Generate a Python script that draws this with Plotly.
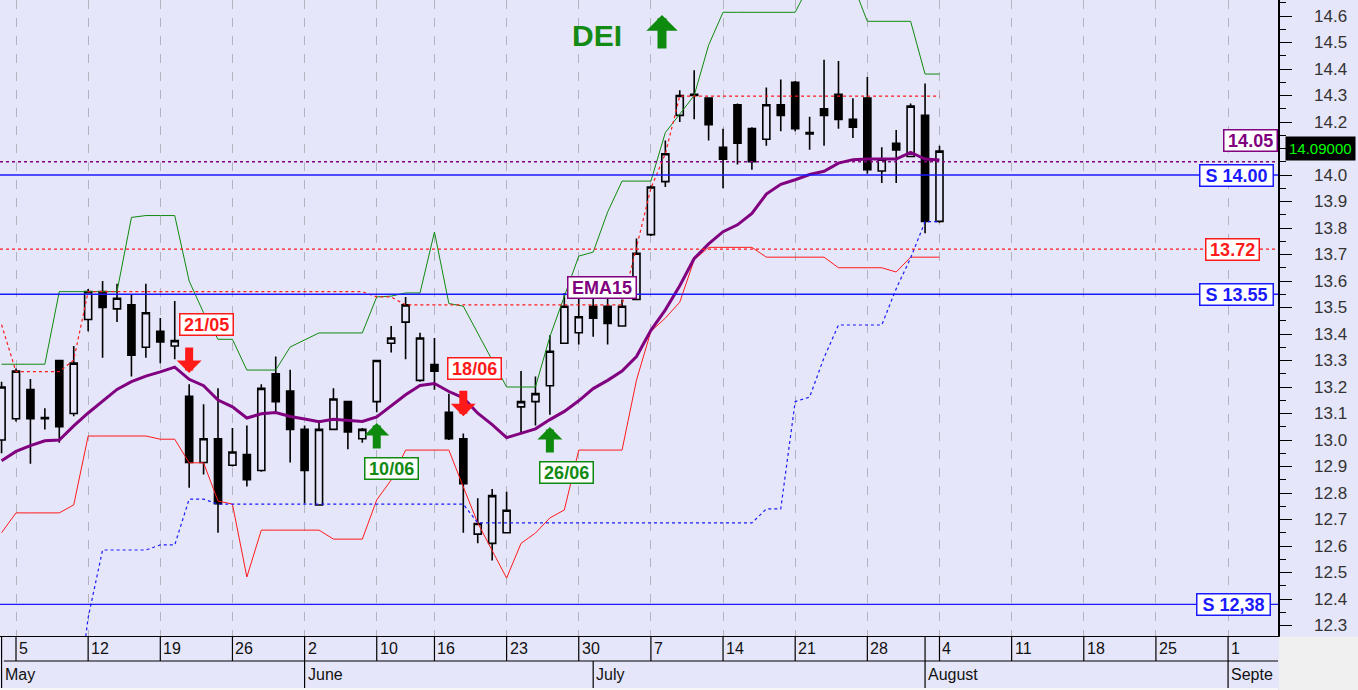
import pandas as pd
import plotly.graph_objects as go

# ---------------- data ----------------
holidays = ["2014-06-09"]
days = [d for d in pd.bdate_range("2014-05-02", "2014-09-05")
        if d.strftime("%Y-%m-%d") not in holidays]

opens = [
    13.00, 13.08, 13.19, 13.085, 13.30, 13.10, 13.455, 13.56, 13.495, 13.51, 13.35,
    13.41, 13.355, 13.165, 12.915, 13.005, 12.905, 12.945, 12.885, 13.25, 13.185, 13.04,
    12.755, 13.04, 13.145, 13.005, 13.145, 13.365, 13.445, 13.225, 13.285, 13.105, 13.005,
    12.645, 12.61, 12.65, 13.125, 13.145, 13.205, 13.365, 13.405, 13.505, 13.505, 13.43,
    13.53, 13.775, 13.975, 14.225, 14.30, 14.29, 14.105, 14.265, 14.175, 14.135, 14.265,
    14.35, 14.16, 14.25, 14.305, 14.21, 14.29, 14.015, 14.12, 14.07, 14.225, 13.825,
]
highs = [
    13.22, 13.27, 13.23, 13.12, 13.30, 13.355, 13.57, 13.60, 13.59, 13.55, 13.59,
    13.46, 13.525, 13.21, 13.135, 13.195, 13.045, 13.055, 13.21, 13.315, 13.265, 13.055,
    13.075, 13.195, 13.145, 13.045, 13.30, 13.43, 13.54, 13.405, 13.385, 13.175, 13.025,
    12.78, 12.815, 12.805, 13.26, 13.24, 13.395, 13.555, 13.535, 13.535, 13.535, 13.53,
    13.76, 13.96, 14.13, 14.32, 14.395, 14.29, 14.175, 14.27, 14.18, 14.33, 14.36,
    14.355, 14.22, 14.435, 14.43, 14.29, 14.37, 14.105, 14.17, 14.27, 14.345, 14.11,
]
lows = [
    12.95, 13.07, 12.91, 13.04, 12.99, 13.09, 13.41, 13.31, 13.445, 13.24, 13.31,
    13.29, 13.305, 12.82, 12.87, 12.65, 12.90, 12.825, 12.88, 13.105, 12.915, 12.76,
    12.755, 13.04, 12.965, 12.99, 13.105, 13.33, 13.305, 13.22, 13.19, 13.00, 12.65,
    12.61, 12.545, 12.65, 13.03, 13.055, 13.095, 13.365, 13.36, 13.39, 13.36, 13.43,
    13.53, 13.77, 13.955, 14.20, 14.21, 14.13, 13.95, 14.04, 14.02, 14.11, 14.165,
    14.165, 14.095, 14.11, 14.175, 14.14, 14.005, 13.97, 13.97, 14.07, 13.78, 13.82,
]
closes = [
    13.20, 13.26, 13.08, 13.08, 13.05, 13.29, 13.56, 13.50, 13.535, 13.32, 13.48,
    13.37, 13.375, 12.915, 13.005, 12.76, 12.955, 12.85, 13.195, 13.145, 13.04, 12.885,
    13.04, 13.155, 13.03, 13.04, 13.30, 13.385, 13.51, 13.385, 13.26, 13.005, 12.835,
    12.685, 12.79, 12.735, 13.145, 13.175, 13.335, 13.505, 13.465, 13.46, 13.44, 13.505,
    13.705, 13.955, 14.08, 14.30, 14.305, 14.19, 14.06, 14.12, 14.05, 14.265, 14.225,
    14.175, 14.155, 14.225, 14.21, 14.18, 14.02, 14.06, 14.095, 14.26, 13.825, 14.09,
]
ema15 = [
    12.922, 12.957, 12.979, 12.997, 13.0, 13.053, 13.102, 13.147, 13.191, 13.22, 13.241,
    13.257, 13.275, 13.229, 13.205, 13.151, 13.125, 13.083, 13.099, 13.104, 13.089, 13.079,
    13.069, 13.078, 13.073, 13.07, 13.087, 13.128, 13.171, 13.206, 13.213, 13.183, 13.159,
    13.101, 13.058, 13.009, 13.025, 13.042, 13.077, 13.108, 13.148, 13.194, 13.225, 13.26,
    13.315, 13.414, 13.491, 13.582, 13.685, 13.74, 13.786, 13.812, 13.855, 13.928, 13.965,
    13.982, 14.002, 14.014, 14.045, 14.058, 14.06, 14.06, 14.06, 14.085, 14.06, 14.057,
]
upper_band = [
    13.286, 13.286, 13.286, 13.286, 13.56, 13.56, 13.56, 13.56, 13.56, 13.84, 13.847,
    13.847, 13.847, 13.60, 13.48, 13.38, 13.38, 13.264, 13.264, 13.264, 13.351, 13.377,
    13.404, 13.404, 13.404, 13.404, 13.54, 13.543, 13.555, 13.555, 13.785, 13.515, 13.505,
    13.404, 13.30, 13.20, 13.20, 13.20, 13.39, 13.54, 13.694, 13.709, 13.86, 13.977,
    13.977, 13.977, 14.16, 14.23, 14.30, 14.49, 14.614, 14.614, 14.614, 14.614, 14.614,
    14.614, 14.72, 14.72, 14.72, 14.72, 14.58, 14.58, 14.58, 14.58, 14.381, 14.381,
]
lower_band = [
    12.65, 12.725, 12.725, 12.725, 12.725, 12.755, 13.015, 13.015, 13.015, 13.015, 13.015,
    13.003, 13.003, 12.914, 12.914, 12.77, 12.758, 12.483, 12.66, 12.66, 12.66, 12.66,
    12.66, 12.626, 12.626, 12.626, 12.774, 12.849, 12.962, 12.962, 12.962, 12.962, 12.823,
    12.687, 12.583, 12.479, 12.61, 12.649, 12.706, 12.736, 12.962, 12.962, 12.962, 12.962,
    13.226, 13.41, 13.46, 13.52, 13.68, 13.727, 13.727, 13.727, 13.727, 13.69, 13.69,
    13.69, 13.69, 13.69, 13.65, 13.65, 13.65, 13.65, 13.634, 13.69, 13.69, 13.69,
]
resist_line = [
    13.435, 13.258, 13.258, 13.258, 13.258, 13.302, 13.56, 13.56, 13.56, 13.56, 13.56,
    13.56, 13.56, 13.56, 13.56, 13.56, 13.56, 13.56, 13.56, 13.56, 13.56, 13.56,
    13.56, 13.56, 13.56, 13.56, 13.54, 13.54, 13.51, 13.51, 13.51, 13.51, 13.51,
    13.51, 13.51, 13.51, 13.51, 13.51, 13.51, 13.51, 13.51, 13.51, 13.51, 13.51,
    13.727, 13.95, 14.08, 14.298, 14.298, 14.298, 14.298, 14.298, 14.298, 14.298, 14.298,
    14.298, 14.298, 14.298, 14.298, 14.298, 14.298, 14.298, 14.298, 14.298, 14.298, 14.298,
]
support_line = [
    None, None, None, None, None, 11.9, 12.33, 12.585, 12.585, 12.585, 12.585,
    12.604, 12.604, 12.777, 12.777, 12.758, 12.758, 12.758, 12.758, 12.758, 12.758, 12.758,
    12.758, 12.758, 12.758, 12.758, 12.758, 12.758, 12.758, 12.758, 12.758, 12.758, 12.758,
    12.687, 12.687, 12.687, 12.687, 12.687, 12.687, 12.687, 12.687, 12.687, 12.687, 12.687,
    12.687, 12.687, 12.687, 12.687, 12.687, 12.687, 12.687, 12.687, 12.687, 12.74, 12.74,
    13.145, 13.162, 13.311, 13.434, 13.434, 13.434, 13.434, 13.571, 13.687, 13.824, 13.824,
]

support_levels = [14.00, 13.55, 12.38]
support_labels = ["S 14.00", "S 13.55", "S 12,38"]
resist_level = 13.72
ema_level = 14.05

sell_dates = ["2014-05-21", "2014-06-18"]
sell_tips = [13.253, 13.09]
sell_labels = ["21/05", "18/06"]
buy_dates = ["2014-06-10", "2014-06-26"]
buy_tips = [13.064, 13.049]
buy_labels = ["10/06", "26/06"]
month_labels = ["May", "June", "July", "August", "Septe"]
y_ticks = [12.3, 12.4, 12.5, 12.6, 12.7, 12.8, 12.9, 13.0, 13.1, 13.2, 13.3, 13.4,
           13.5, 13.6, 13.7, 13.8, 13.9, 14.0, 14.1, 14.2, 14.3, 14.4, 14.5, 14.6]

# ---------------- styling ----------------
BG = "#E6E6FA"
FONT = "Liberation Sans, Arial, sans-serif"
RED = "#FF1A1A"
GREEN = "#138A13"
ARROWGREEN = "#0E8A0E"
BLUE = "#1A1AFF"
PURPLE = "#800080"
NB = "\u00a0"
TH = "\u2009"

n = len(closes)
pos = list(range(n))
date_pos = {d.strftime("%Y-%m-%d"): i for i, d in enumerate(days)}

week_pos = [i for i in range(1, len(days))
            if days[i].isocalendar()[1] != days[i - 1].isocalendar()[1]]
month_pos = [i for i in range(len(days)) if i == 0 or days[i].month != days[i - 1].month]
last_month_start = max(m for m in month_pos if m < n)

X0, X1 = -0.109, 88.46
Y0, Y1 = 12.2604, 14.6604

fig = go.Figure()
fig.add_trace(go.Scatter(x=pos, y=upper_band, mode="lines", line=dict(color="#0E8A0E", width=1)))
fig.add_trace(go.Scatter(x=pos, y=lower_band, mode="lines", line=dict(color=RED, width=1)))
fig.add_trace(go.Scatter(x=pos, y=resist_line, mode="lines",
                         line=dict(color=RED, width=1.2, dash="3px,3px")))
fig.add_trace(go.Scatter(x=pos, y=support_line, mode="lines",
                         line=dict(color=BLUE, width=1.2, dash="3px,3px")))
fig.add_trace(go.Candlestick(
    x=pos, open=opens, high=highs, low=lows, close=closes,
    increasing=dict(line=dict(color="black", width=1.6), fillcolor=BG),
    decreasing=dict(line=dict(color="black", width=1.6), fillcolor="black"),
    whiskerwidth=0))
fig.add_trace(go.Scatter(x=pos, y=ema15, mode="lines", line=dict(color=PURPLE, width=3)))

shapes = []
for lv in support_levels:
    shapes.append(dict(type="line", xref="paper", x0=0, x1=1, yref="y", y0=lv, y1=lv,
                       line=dict(color=BLUE, width=1.3)))
shapes.append(dict(type="line", xref="paper", x0=0, x1=1, yref="y", y0=resist_level, y1=resist_level,
                   line=dict(color=RED, width=1.3, dash="3px,3px")))
shapes.append(dict(type="line", xref="paper", x0=0, x1=1, yref="y", y0=ema_level, y1=ema_level,
                   line=dict(color=PURPLE, width=1.3, dash="3px,3px")))

# bottom date table
R1 = -25 / 636
R2 = -52 / 636
shapes.append(dict(type="rect", xref="paper", x0=0, x1=1, yref="paper", y0=0, y1=R2,
                   fillcolor=BG, line=dict(width=0), layer="below"))
shapes.append(dict(type="rect", xref="paper", x0=1.0008, x1=1.07, yref="paper", y0=-0.001, y1=-0.1,
                   fillcolor="#F0F0F0", line=dict(width=0)))
shapes.append(dict(type="rect", xref="paper", x0=0, x1=1, yref="paper", y0=R2, y1=-0.1,
                   fillcolor="#F7F7F7", line=dict(width=0)))
shapes.append(dict(type="line", xref="paper", x0=0.003, x1=1, yref="paper", y0=R1, y1=R1,
                   line=dict(color="black", width=1.2)))
for p in week_pos + [0, last_month_start]:
    shapes.append(dict(type="line", xref="x", x0=p, x1=p, yref="paper", y0=0, y1=R1,
                       line=dict(color="black", width=1.2)))
for p in month_pos:
    shapes.append(dict(type="line", xref="x", x0=p, x1=p, yref="paper", y0=R1, y1=R2,
                       line=dict(color="black", width=1.2)))

annotations = []
for p in week_pos:
    if p <= X1:
        annotations.append(dict(x=p, xref="x", y=R1 / 2, yref="paper", text=str(days[p].day),
                                xanchor="left", yanchor="middle", xshift=1, showarrow=False,
                                font=dict(size=16, color="#111")))
for p, lab in zip(month_pos, month_labels):
    annotations.append(dict(x=p, xref="x", y=(R1 + R2) / 2, yref="paper", text=lab,
                            xanchor="left", yanchor="middle", xshift=1, showarrow=False,
                            font=dict(size=16, color="#111")))

# right axis tick labels (the one hidden under the price box is left out)
for v in y_ticks:
    if abs(v - closes[-1]) < 0.05:
        continue
    annotations.append(dict(x=1.0, xref="paper", y=v, yref="y", text="%.1f" % v,
                            xanchor="left", yanchor="middle", xshift=34, showarrow=False,
                            font=dict(size=17, color="#333")))

# signals
def boxed(t):
    return "<b>" + TH + t + TH + "</b>"

for d, tip, lab, dx in zip(sell_dates, sell_tips, sell_labels, [17, 11]):
    p = date_pos[d]
    annotations.append(dict(x=p, y=tip, xref="x", yref="y", text="", showarrow=True,
                            ax=0, ay=-27, arrowhead=1, arrowwidth=8, arrowsize=0.52, arrowcolor=RED))
    annotations.append(dict(x=p, y=tip, xref="x", yref="y", text=boxed(lab), showarrow=False,
                            xshift=dx, yshift=48, bgcolor="white", bordercolor=RED, borderwidth=1.5,
                            borderpad=0, font=dict(size=18, color=RED)))
for d, tip, lab, dx in zip(buy_dates, buy_tips, buy_labels, [15, 17]):
    p = date_pos[d]
    annotations.append(dict(x=p, y=tip, xref="x", yref="y", text="", showarrow=True,
                            ax=0, ay=27, arrowhead=1, arrowwidth=8, arrowsize=0.52, arrowcolor=ARROWGREEN))
    annotations.append(dict(x=p, y=tip, xref="x", yref="y", text=boxed(lab), showarrow=False,
                            xshift=dx, yshift=-45, bgcolor="white", bordercolor=ARROWGREEN,
                            borderwidth=1.5, borderpad=0, font=dict(size=18, color=GREEN)))

annotations.append(dict(x=41.6, y=13.577, xref="x", yref="y", text=boxed("EMA15"), showarrow=False,
                        bgcolor="white", bordercolor=PURPLE, borderwidth=1.5, borderpad=0,
                        font=dict(size=18, color=PURPLE)))
annotations.append(dict(x=597 / 1278, y=(636 - 35) / 636, xref="paper", yref="paper", text="<b>DEI</b>",
                        xanchor="center", yanchor="middle", showarrow=False,
                        font=dict(size=30, color=GREEN)))
annotations.append(dict(x=662 / 1278, y=(636 - 15) / 636, xref="paper", yref="paper", text="",
                        showarrow=True, ax=0, ay=35, arrowhead=1, arrowwidth=9, arrowsize=0.58,
                        arrowcolor=ARROWGREEN))

# right level labels
def lvl(t):
    return "<b>" + NB + t + NB + "</b>"

for lv, lab, right in zip(support_levels, support_labels, [1274, 1274, 1271]):
    annotations.append(dict(x=right / 1278, y=lv, xref="paper", yref="y", text=lvl(lab),
                            xanchor="right", yanchor="middle", showarrow=False, bgcolor="white",
                            bordercolor=BLUE, borderwidth=1.5, borderpad=0,
                            font=dict(size=18, color=BLUE)))
annotations.append(dict(x=1260 / 1278, y=resist_level, xref="paper", yref="y",
                        text="<b>" + TH + "%.2f" % resist_level + TH + "</b>",
                        xanchor="right", yanchor="middle", showarrow=False,
                        bgcolor="white", bordercolor=RED, borderwidth=1.5, borderpad=0,
                        font=dict(size=18, color=RED)))
annotations.append(dict(x=1.0, y=ema_level, xref="paper", yref="y", yshift=21,
                        text="<b>" + TH + "%.2f" % ema_level + TH + "</b>",
                        xanchor="right", yanchor="middle", showarrow=False,
                        bgcolor="white", bordercolor=PURPLE, borderwidth=1.5, borderpad=0,
                        font=dict(size=18, color=PURPLE)))
annotations.append(dict(x=1.0, y=closes[-1], xref="paper", yref="y", xshift=7, yshift=3,
                        text="%.5f" % closes[-1], xanchor="left", yanchor="middle", showarrow=False,
                        bgcolor="black", borderpad=3, font=dict(size=15, color="#00FF00")))

fig.update_layout(
    width=1358, height=690, margin=dict(l=0, r=80, t=0, b=54),
    paper_bgcolor=BG, plot_bgcolor=BG, showlegend=False,
    font=dict(family=FONT, size=15, color="#222"),
    shapes=shapes, annotations=annotations,
    xaxis=dict(range=[X0, X1], tickvals=week_pos, showticklabels=False, ticks="",
               showgrid=True, gridcolor="#B4B4C0", griddash="dash", gridwidth=1,
               zeroline=False, showline=True, linecolor="black", linewidth=1.2,
               rangeslider=dict(visible=False), fixedrange=True),
    yaxis=dict(side="right", range=[Y0, Y1], tickvals=y_ticks, showticklabels=False,
               ticks="outside", ticklen=12, tickwidth=1, tickcolor="black",
               minor=dict(dtick=0.05, tick0=12.25, ticks="outside", ticklen=6, tickcolor="black",
                          showgrid=False),
               showgrid=False, zeroline=False, showline=True, linecolor="black", linewidth=1.5,
               fixedrange=True),
)

fig.write_html("out.html", config={"displayModeBar": False},
               post_script="document.body.style.margin='0';")
